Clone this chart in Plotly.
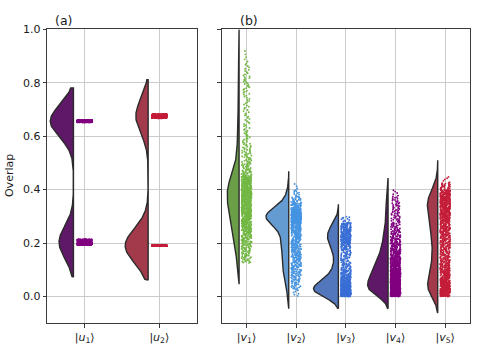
import numpy as np
import plotly.graph_objects as go

# ---------------- data ----------------
cats_a = ["|<i>u</i><sub>1</sub>⟩", "|<i>u</i><sub>2</sub>⟩"]
cats_b = ["|<i>v</i><sub>1</sub>⟩", "|<i>v</i><sub>2</sub>⟩", "|<i>v</i><sub>3</sub>⟩",
          "|<i>v</i><sub>4</sub>⟩", "|<i>v</i><sub>5</sub>⟩"]

# panel (a): overlap values cluster in narrow bands -> [low edge, high edge, count]
u1_lo = [0.192, 0.652]
u1_hi = [0.214, 0.660]
u1_n = [385, 615]
u2_lo = [0.189, 0.667]
u2_hi = [0.191, 0.683]
u2_n = [650, 350]

# panel (b): histogram counts in bins of width BIN starting at *_start
BIN = 0.025
v1_start = 0.125
v1_counts = [18, 22, 28, 35, 43, 52, 60, 66, 72, 76, 82, 86, 70, 28, 22, 18, 15, 12,
             9, 8, 7, 6, 6, 6, 6, 7, 8, 8, 6, 5, 3, 2]
v2_start = 0.0
v2_counts = [6, 18, 23, 29, 33, 35, 36, 38, 40, 46, 62, 150, 150, 50, 22, 10, 3]
v3_start = 0.0
v3_counts = [200, 180, 80, 45, 30, 24, 26, 52, 72, 72, 52, 12]
v4_start = 0.0
v4_counts = [150, 160, 140, 120, 96, 75, 57, 45, 36, 28, 21, 17, 16, 15, 12, 5]
v5_start = 0.0
v5_counts = [95, 88, 70, 56, 47, 41, 37, 38, 42, 48, 57, 66, 74, 82, 82, 62, 25, 5]

# kernel bandwidths of the half violins
bw_a = [0.060, 0.064]
bw_b = [0.040, 0.024, 0.023, 0.023, 0.031]

# colours
cloud_a = ["#5f1768", "#a23a4b"]
rain_a = ["#800080", "#c41e3a"]
cloud_b = ["#6a9f48", "#649bd1", "#5277bd", "#5f1768", "#a23a4b"]
rain_b = ["#72b843", "#4594e2", "#3a6fd6", "#800080", "#c41e3a"]


# ---------------- helpers ----------------
def expand(lo, hi, n):
    out = []
    for a, b, c in zip(lo, hi, n):
        out.append(a + (np.arange(c) + 0.5) / c * (b - a))
    return np.concatenate(out)


def expand_hist(start, counts):
    lo = [start + i * BIN for i in range(len(counts))]
    hi = [l + BIN for l in lo]
    return expand(lo, hi, counts)


def kde(vals, bw):
    g = np.linspace(vals.min() - 2 * bw, vals.max() + 2 * bw, 300)
    d = np.exp(-0.5 * ((g[:, None] - vals[None, :]) / bw) ** 2).sum(1)
    d /= len(vals) * bw * np.sqrt(2 * np.pi)
    return g, d


samples_a = [expand(u1_lo, u1_hi, u1_n), expand(u2_lo, u2_hi, u2_n)]
samples_b = [expand_hist(v1_start, v1_counts), expand_hist(v2_start, v2_counts),
             expand_hist(v3_start, v3_counts), expand_hist(v4_start, v4_counts),
             expand_hist(v5_start, v5_counts)]

OFF = 0.15          # cloud shift to the left of the category
EDGE = "#2b2b2b"
fig = go.Figure()


def add_panel(samples, bws, clouds, rains, half_w, xa, ya):
    ks = [kde(s, b) for s, b in zip(samples, bws)]
    dmax = max(d.max() for _, d in ks)
    for i, ((g, d), s) in enumerate(zip(ks, samples)):
        c = i - OFF
        half = half_w * d / dmax
        xs = np.concatenate([[c], c - half, [c, c]])
        ys = np.concatenate([[g[0]], g, [g[-1], g[0]]])
        fig.add_trace(go.Scatter(x=xs, y=ys, mode="lines", fill="toself",
                                 fillcolor=clouds[i], line=dict(color=EDGE, width=1.4),
                                 xaxis=xa, yaxis=ya, hoverinfo="skip", showlegend=False))
    for i, s in enumerate(samples):
        fig.add_trace(go.Box(y=s, x0=i, boxpoints="all", jitter=1, pointpos=0, width=0.2,
                             fillcolor="rgba(0,0,0,0)",
                             line=dict(width=0, color="rgba(0,0,0,0)"),
                             marker=dict(color=rains[i], size=1.9),
                             xaxis=xa, yaxis=ya, showlegend=False))


add_panel(samples_a, bw_a, cloud_a, rain_a, 0.31, "x", "y")
add_panel(samples_b, bw_b, cloud_b, rain_b, 0.50, "x2", "y2")

W, H = 479, 351
ydom = [1 - 322.7 / H, 1 - 23.7 / H]
FONT = "DejaVu Sans, sans-serif"
axis_common = dict(showgrid=True, gridcolor="#cbcbcb", gridwidth=1, zeroline=False,
                   showline=True, mirror=True, linecolor="#3a3a3a", linewidth=1,
                   ticks="outside", ticklen=3.5, tickcolor="#3a3a3a",
                   tickfont=dict(family=FONT, size=11, color="#1a1a1a"))

fig.update_layout(
    width=W, height=H, margin=dict(l=0, r=0, t=0, b=0),
    paper_bgcolor="white", plot_bgcolor="white", showlegend=False,
    font=dict(family=FONT, size=11, color="#1a1a1a"),
    boxmode="overlay",
    xaxis=dict(domain=[47.3 / W, 196.7 / W], range=[-0.5, 1.5], tickvals=[0, 1],
               ticktext=cats_a, anchor="y", **axis_common),
    yaxis=dict(domain=ydom, range=[-0.1, 1.0], tickvals=[0, 0.2, 0.4, 0.6, 0.8, 1.0],
               tickformat=".1f", anchor="x", **axis_common),
    xaxis2=dict(domain=[221.7 / W, 470 / W], range=[-0.5, 4.5], tickvals=[0, 1, 2, 3, 4],
                ticktext=cats_b, anchor="y2", **axis_common),
    yaxis2=dict(domain=ydom, range=[-0.1, 1.0], tickvals=[0, 0.2, 0.4, 0.6, 0.8, 1.0],
                matches="y", showticklabels=False, anchor="x2", **axis_common),
    annotations=[
        dict(text="(a)", x=52.5 / W, y=1 - 14.5 / H, xref="paper", yref="paper",
             xanchor="left", yanchor="middle", showarrow=False,
             font=dict(family=FONT, size=12.5)),
        dict(text="(b)", x=237.5 / W, y=1 - 14.5 / H, xref="paper", yref="paper",
             xanchor="left", yanchor="middle", showarrow=False,
             font=dict(family=FONT, size=12.5)),
        dict(text="Overlap", x=9 / W, y=1 - 173 / H, xref="paper", yref="paper",
             xanchor="center", yanchor="middle", textangle=-90, showarrow=False,
             font=dict(family=FONT, size=11)),
    ],
)

fig.write_html("out.html")
